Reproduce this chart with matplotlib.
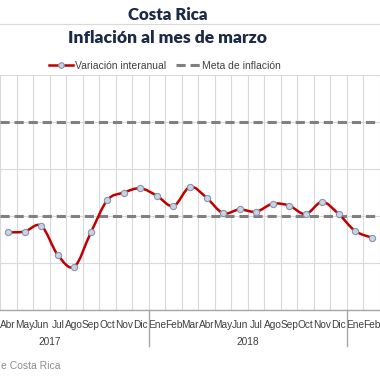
import numpy as np
import matplotlib.pyplot as plt
import matplotlib.transforms as mtransforms
from matplotlib.path import Path
from matplotlib.patches import PathPatch
from matplotlib.lines import Line2D

plt.rcParams['font.family'] = ['Liberation Sans', 'DejaVu Sans']

# Abr 2017 .. Feb 2019
months = ['Abr', 'May', 'Jun', 'Jul', 'Ago', 'Sep', 'Oct', 'Nov', 'Dic',
          'Ene', 'Feb', 'Mar', 'Abr', 'May', 'Jun', 'Jul', 'Ago', 'Sep', 'Oct', 'Nov', 'Dic',
          'Ene', 'Feb']
inflacion = [1.65, 1.67, 1.79, 1.17, 0.92, 1.65, 2.34, 2.50, 2.59,
             2.43, 2.21, 2.62, 2.39, 2.06, 2.14, 2.09, 2.26, 2.22, 2.04, 2.30, 2.04,
             1.68, 1.54]
meta_sup = 4.0
meta_inf = 2.0
years = ['2017', '2018']
year_start = [-3, 9]   # index of Ene in each year
year_end = [8, 20]     # index of Dic

red = '#c00000'
grid_c = '#d9d9d9'
navy = '#1b2a47'

fig = plt.figure(figsize=(3.8, 3.8), dpi=100)
ax = fig.add_axes([0, 1 - 310 / 380, 1, 235 / 380])

x = np.arange(len(inflacion))
y = np.array(inflacion)

# smoothed line (excel-like bezier through the data points)
verts = [(x[0], y[0])]
codes = [Path.MOVETO]
n = len(x)
for i in range(n - 1):
    p0 = np.array([x[max(i - 1, 0)], y[max(i - 1, 0)]])
    p1 = np.array([x[i], y[i]])
    p2 = np.array([x[i + 1], y[i + 1]])
    p3 = np.array([x[min(i + 2, n - 1)], y[min(i + 2, n - 1)]])
    c1 = p1 + (p2 - p0) / 6
    c2 = p2 - (p3 - p1) / 6
    verts += [tuple(c1), tuple(c2), tuple(p2)]
    codes += [Path.CURVE4] * 3
ax.add_patch(PathPatch(Path(verts, codes), facecolor='none', edgecolor=red, lw=1.8, zorder=3))
ax.plot(x, y, ls='none', marker='o', ms=4.5, mfc='#c9d3e3', mec='#8594ad', mew=0.8, zorder=4)

ax.axhline(meta_sup, color='#808080', lw=2.2, ls=(0, (3, 1.6)), zorder=2)
ax.axhline(meta_inf, color='#808080', lw=2.2, ls=(0, (3, 1.6)), zorder=2)

ax.set_xlim(-3.15 / 17.1, (380 - 3.15) / 17.1)
ax.set_ylim(0, 5)
ax.set_yticks(np.arange(0, 6, 1))
ax.set_xticks(np.arange(-0.5, n + 0.5, 1), minor=False)
ax.set_xticklabels([])
ax.set_xticks(x, minor=True)
ax.set_xticklabels(months, minor=True, fontsize=7.3, color='#404040')
ax.tick_params(axis='x', which='both', length=0, pad=7)
ax.tick_params(axis='y', length=0, labelleft=False)
ax.grid(True, which='major', color=grid_c, lw=0.8)
ax.set_axisbelow(True)
for s in ['left', 'right', 'top']:
    ax.spines[s].set_visible(False)
ax.spines['bottom'].set_color('#a6a6a6')
ax.spines['bottom'].set_linewidth(1.0)

trans = mtransforms.blended_transform_factory(ax.transData, ax.transAxes)
for yr, a, b in zip(years, year_start, year_end):
    ax.text((a + b) / 2, -0.137, yr, transform=trans, ha='center', va='center',
            fontsize=7.3, color='#404040')
for b in year_end:
    ax.plot([b + 0.5, b + 0.5], [0, -0.155], transform=trans, color='#a6a6a6',
            lw=1.0, clip_on=False)

# titles and top rule
fig.add_artist(Line2D([0, 1], [1 - 24 / 380, 1 - 24 / 380], color=grid_c, lw=0.8))
fig.text(168 / 380, 1 - 15 / 380, 'Costa Rica', ha='center', va='center',
         fontsize=12.2, fontweight='heavy', color=navy, family='Lato')
fig.text(168 / 380, 1 - 38 / 380, 'Inflación al mes de marzo', ha='center', va='center',
         fontsize=12.6, fontweight='heavy', color=navy, family='Lato')

handles = [
    Line2D([], [], color=red, lw=1.8, marker='o', ms=4, mfc='#c9d3e3', mec='#8594ad', mew=0.8),
    Line2D([], [], color='#808080', lw=2.2, ls=(0, (3, 1.6))),
]
fig.legend(handles, ['Variación interanual', 'Meta de inflación'], loc='center',
           bbox_to_anchor=(165 / 380, 1 - 65.7 / 380), ncol=2, frameon=False,
           fontsize=7.5, handlelength=2.3, handletextpad=0.15, columnspacing=1.0,
           labelcolor='#404040')

fig.text(1 / 380, 1 - 366 / 380, 'e Costa Rica', ha='left',
         va='center', fontsize=7.5, color='#8c8c8c')

fig.savefig('out.png', dpi=100, facecolor='white')
